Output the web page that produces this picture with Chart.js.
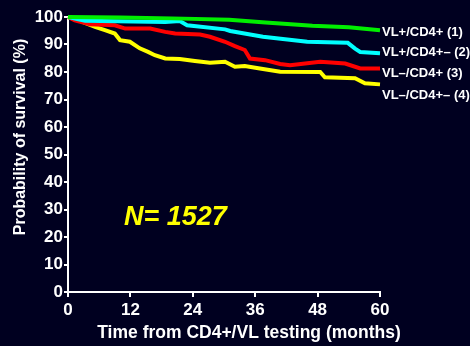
<!DOCTYPE html>
<html>
<head>
<meta charset="utf-8">
<script src="https://cdn.jsdelivr.net/npm/chart.js@4/dist/chart.umd.min.js"></script>
<style>
  html, body { margin: 0; padding: 0; background: #000020; }
  #wrap { width: 470px; height: 346px; position: relative; }
</style>
</head>
<body>
<div id="wrap"><canvas id="chart" width="470" height="346"></canvas></div>
<script>
// survival curves, months vs %
var greenMonths = [0, 10, 20, 31, 38, 47, 54, 60];
var greenValues = [100, 99.8, 99.5, 99.0, 98.0, 96.8, 96.3, 95.2];

var cyanMonths = [0, 3.3, 18.7, 21.5, 22.9, 30.2, 31.2, 37.5, 46, 53.8, 55.2, 56.2, 60];
var cyanValues = [100, 98.6, 98.2, 98.5, 97.0, 95.5, 94.9, 92.8, 91.0, 90.6, 88.5, 87.3, 86.8];

var redMonths = [0, 1.3, 4.2, 9.0, 11, 15.8, 18.7, 20.6, 25.4, 27.3, 30.2, 32.1, 34, 35, 37.9, 40.8, 42.7, 48.5, 53.3, 56.2, 60];
var redValues = [100, 98.8, 97.4, 97.0, 95.8, 95.8, 94.6, 94.0, 93.6, 92.8, 91.0, 89.4, 88.0, 84.9, 84.3, 82.9, 82.5, 83.7, 83.1, 81.3, 81.3];

var yellowMonths = [0, 2.3, 5.2, 7.1, 9.0, 10, 11.9, 13.8, 15.4, 16.7, 18.7, 21.5, 24.4, 27.3, 30.2, 32.1, 34, 36.9, 40.8, 48.5, 49.4, 55.2, 57.1, 60];
var yellowValues = [100, 98.6, 96.4, 95.2, 94.0, 91.6, 91.0, 88.6, 87.3, 86.1, 84.9, 84.7, 84.0, 83.4, 83.7, 81.9, 82.2, 81.3, 80.1, 80.0, 78.1, 77.7, 75.9, 75.5];

var seriesLabels = ['VL+/CD4+ (1)', 'VL+/CD4+\u2013 (2)', 'VL\u2013/CD4+ (3)', 'VL\u2013/CD4+\u2013 (4)'];
var xTicks = [0, 12, 24, 36, 48, 60];

var FONT = "Arial, 'Liberation Sans', sans-serif";

function toPoints(months, values) {
    return months.map(function (m, i) { return { x: m, y: values[i] }; });
}

function makeSet(label, months, values, color) {
    return {
        label: label,
        data: toPoints(months, values),
        borderColor: color,
        borderWidth: 4,
        pointRadius: 0,
        tension: 0,
        fill: false,
        clip: 5
    };
}

// texts outside the plot: series names, titles, N
var textPlugin = {
    id: 'texts',
    afterDraw: function (chart) {
        var ctx = chart.ctx;
        ctx.save();
        ctx.fillStyle = '#ffffff';
        ctx.font = 'bold 13px ' + FONT;
        ctx.textAlign = 'left';
        ctx.textBaseline = 'middle';
        var ys = [32, 52, 73, 95];
        seriesLabels.forEach(function (t, i) {
            ctx.fillText(t, 382, ys[i]);
        });

        ctx.font = 'bold 17.5px ' + FONT;
        ctx.textAlign = 'center';
        ctx.fillText('Time from CD4+/VL testing (months)', 249, 333);

        ctx.font = 'bold 16px ' + FONT;
        ctx.translate(21, 137);
        ctx.rotate(-Math.PI / 2);
        ctx.fillText('Probability of survival (%)', 0, 0);
        ctx.restore();

        ctx.save();
        ctx.fillStyle = '#ffff00';
        ctx.font = 'italic bold 27px ' + FONT;
        ctx.textAlign = 'left';
        ctx.textBaseline = 'alphabetic';
        ctx.fillText('N= 1527', 124, 225);
        ctx.restore();
    }
};

new Chart(document.getElementById('chart').getContext('2d'), {
    type: 'line',
    data: {
        datasets: [
            makeSet(seriesLabels[0], greenMonths, greenValues, '#00ee00'),
            makeSet(seriesLabels[1], cyanMonths, cyanValues, '#00ffff'),
            makeSet(seriesLabels[2], redMonths, redValues, '#ff0000'),
            makeSet(seriesLabels[3], yellowMonths, yellowValues, '#ffff00')
        ]
    },
    options: {
        responsive: false,
        animation: false,
        layout: { padding: { left: 0, right: 90, top: 17, bottom: 0 } },
        plugins: { legend: { display: false }, tooltip: { enabled: false } },
        scales: {
            x: {
                type: 'linear',
                min: 0,
                max: 60,
                afterFit: function (s) { s.height = 54; },
                afterBuildTicks: function (s) { s.ticks = xTicks.map(function (v) { return { value: v }; }); },
                border: { display: true, color: '#ffffff', width: 2 },
                grid: { display: true, drawOnChartArea: false, drawTicks: true, tickLength: 5, color: '#ffffff', lineWidth: 2 },
                ticks: { color: '#ffffff', font: { family: FONT, size: 17, weight: 'bold' }, padding: 3, maxRotation: 0 }
            },
            y: {
                min: 0,
                max: 100,
                afterFit: function (s) { s.width = 68; },
                border: { display: true, color: '#ffffff', width: 2 },
                grid: { display: true, drawOnChartArea: false, drawTicks: true, tickLength: 4, color: '#ffffff', lineWidth: 2 },
                ticks: { stepSize: 10, color: '#ffffff', font: { family: FONT, size: 17, weight: 'bold' }, padding: 1 }
            }
        }
    },
    plugins: [textPlugin]
});
</script>
</body>
</html>
